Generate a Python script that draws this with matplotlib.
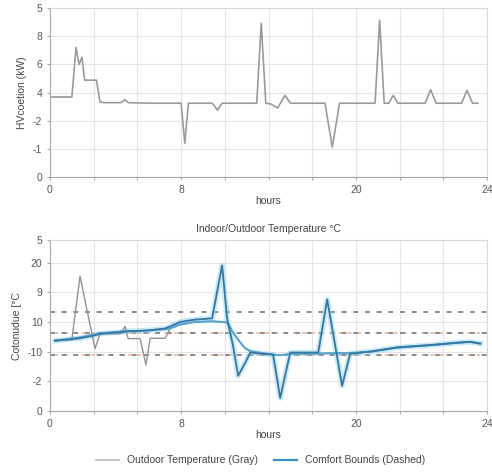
import matplotlib
matplotlib.use("Agg")
import matplotlib.pyplot as plt

plt.rcParams['font.family'] = ['Liberation Sans', 'DejaVu Sans']

# top panel: HVAC operation
hvac_hours = [0.0, 1.2, 1.43, 1.6, 1.76, 1.9, 2.55, 2.75, 3.0, 3.9, 4.1, 4.3, 5.5, 6.0, 7.2, 7.4, 7.6, 8.0, 8.9, 9.2, 9.45, 11.35, 11.6, 11.85, 12.1,
              12.5, 12.9, 13.2, 14.0, 15.1, 15.5, 15.9, 16.5, 17.6, 17.85, 18.1, 18.35, 18.6, 18.85, 19.1, 20.2, 20.6, 20.9, 21.2, 22.3, 22.6,
              22.9, 23.2, 23.5]
hvac_kw = [2.84, 2.84, 4.6, 4.0, 4.25, 3.44, 3.44, 2.66, 2.64, 2.64, 2.75, 2.64, 2.62, 2.62, 2.62, 1.2, 2.62, 2.62, 2.62, 2.38, 2.62, 2.62, 5.46, 2.62, 2.6,
           2.45, 2.9, 2.62, 2.62, 2.62, 1.06, 2.62, 2.62, 2.62, 2.62, 5.57, 2.62, 2.62, 2.9, 2.62, 2.62, 2.62, 3.1, 2.62, 2.62, 2.62,
           3.08, 2.62, 2.62]
hvac_yticklabels = ["0", "-1", "-2", "4", "6", "8", "5"]

# bottom panel: temperatures
temp_hours = [0.27, 1.2, 1.65, 2.47, 2.75, 3.85, 4.12, 4.29, 4.95, 5.27, 5.5, 6.32, 6.6, 7.14, 7.97, 8.9, 9.45, 9.73, 10.05, 10.33, 10.7, 11.0,
              11.65, 12.25, 12.64, 13.19, 14.73, 15.22, 16.04, 16.48, 17.58, 19.07, 20.88, 22.36, 23.08, 23.63]
outdoor = [2.37, 2.4, 4.54, 2.1, 2.6, 2.6, 2.85, 2.44, 2.44, 1.55, 2.45, 2.45, 2.78, 2.9, 3.0, 3.02, 3.0, 2.98, 2.65, 2.4, 2.12, 2.0,
           1.95, 1.9, 1.88, 1.93, 1.94, 1.95, 1.95, 1.95, 2.0, 2.14, 2.22, 2.3, 2.33, 2.27]
indoor_a = [2.37, 2.42, 2.45, 2.55, 2.6, 2.66, 2.68, 2.69, 2.7, 2.71, 2.72, 2.78, 2.85, 3.0, 3.08, 3.12, 4.9, 3.1, 2.2, 1.19, 1.6, 1.97,
            1.93, 1.9, 0.44, 1.97, 1.97, 3.76, 0.85, 1.93, 2.0, 2.14, 2.22, 2.3, 2.33, 2.27]
indoor_b = [2.37, 2.44, 2.48, 2.58, 2.62, 2.67, 2.68, 2.69, 2.7, 2.71, 2.72, 2.76, 2.78, 2.92, 3.0, 3.02, 3.0, 2.98, 2.65, 2.4, 2.12, 2.02,
            1.95, 1.9, 1.88, 1.92, 1.93, 1.94, 1.95, 1.95, 2.0, 2.14, 2.22, 2.3, 2.33, 2.27]
bounds = [3.32, 2.64, 1.9]
temp_yticks = [0, 1, 2, 3, 4, 5, 5.76]
temp_yticklabels = ["0", "-2", "-10", "10", "9", "20", "5"]

xticks = [0, 2.4, 4.8, 7.2, 9.6, 12, 14.4, 16.8, 19.2, 21.6, 24]
xticklabels = ["0", "", "", "8", "", "", "", "20", "", "", "24"]

fig = plt.figure(figsize=(4.92, 4.73), dpi=100)
ax1 = fig.add_axes([0.1016, 0.6258, 0.8884, 0.3572])
ax2 = fig.add_axes([0.1016, 0.131, 0.8884, 0.3616])

for ax in (ax1, ax2):
    ax.set_xlim(0, 24)
    ax.set_xticks(xticks)
    ax.set_xticklabels(xticklabels)
    ax.grid(True, color='#e4e4e4', linewidth=0.8)
    ax.set_axisbelow(True)
    for s in ax.spines.values():
        s.set_color('#d8d8d8')
    ax.spines['left'].set_color('#a8a8a8')
    ax.spines['bottom'].set_color('#a8a8a8')
    ax.tick_params(labelsize=7.5, colors='#555555', length=2, color='#a8a8a8')
    ax.set_xlabel('hours', fontsize=7.5, color='#444444', labelpad=1)

ax1.plot(hvac_hours, hvac_kw, color='#9a9a9a', linewidth=1.2)
ax1.set_ylim(0, 6)
ax1.set_yticks(range(7))
ax1.set_yticklabels(hvac_yticklabels)
ax1.set_ylabel('HVcoetion (kW)', fontsize=7.5, color='#444444')

for i, b in enumerate(bounds):
    if i > 0:
        ax2.axhline(b, color='#f2b08a', linestyle=(3, (2.5, 3.5)), linewidth=1.1)
    ax2.axhline(b, color='#858a90', linestyle=(0, (2.5, 3.5)), linewidth=1.4)
ax2.plot(temp_hours, indoor_a, color='#9bd8f4', linewidth=4, alpha=0.55)
ax2.plot(temp_hours, outdoor, color='#929292', linewidth=1.0)
ax2.plot(temp_hours, indoor_b, color='#55a8d6', linewidth=1.5)
ax2.plot(temp_hours, indoor_a, color='#37779f', linewidth=1.3)
ax2.set_ylim(0, 5.76)
ax2.set_yticks(temp_yticks)
ax2.set_yticklabels(temp_yticklabels)
ax2.set_ylabel('Cotonudue [°C', fontsize=7.5, color='#444444')
ax2.set_title('Indoor/Outdoor Temperature °C', fontsize=7.5, color='#444444', pad=6)

h1, = ax2.plot([], [], color='#c0c0c0', linewidth=1.3)
h2, = ax2.plot([], [], color='#3a8fc4', linewidth=1.6)
fig.legend([h1, h2], ['Outdoor Temperature (Gray)', 'Comfort Bounds (Dashed)'], loc='center',
           bbox_to_anchor=(0.53, 0.027), ncol=2, frameon=False, fontsize=7.5, handlelength=2.2,
           columnspacing=1.5, labelcolor='#444444')

fig.savefig('out.png', dpi=100)
